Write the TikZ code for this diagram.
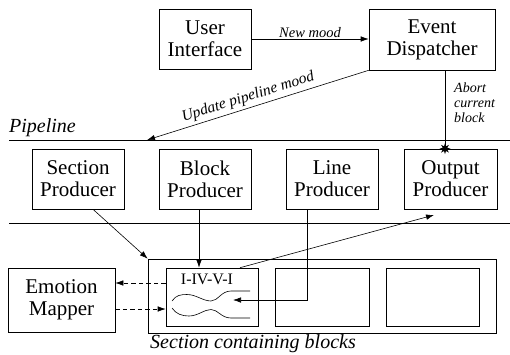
\documentclass[tikz,border=0pt]{standalone}
\usepackage{fontspec}
\setmainfont{Liberation Serif}
\usetikzlibrary{arrows.meta,shapes.geometric}
\tikzset{
  box/.style={draw, line width=0.6pt, inner sep=0pt, align=center, font=\fontsize{21}{22}\selectfont},
  conn/.style={line width=0.6pt},
  arr/.style={conn, -{Latex[length=8pt,width=5.5pt]}},
  dsh/.style={arr, dash pattern=on 4.5pt off 3pt},
  lbl/.style={font=\fontsize{14.5}{15}\selectfont\itshape, inner sep=1pt},
  big/.style={font=\fontsize{20}{22}\selectfont\itshape, inner sep=0pt},
  burst/.style={star, star points=8, star point ratio=2.2, fill=black, draw=none, minimum size=11pt, inner sep=0pt}
}
\begin{document}
\begin{tikzpicture}[x=1pt,y=-1pt]
\useasboundingbox (0,0) rectangle (510,354);
% top row
\node[box, minimum width=92pt, minimum height=60pt] (ui) at (205,39) {User\\Interface};
\node[box, minimum width=126pt, minimum height=61pt] (ed) at (432,39.5) {Event\\Dispatcher};
% pipeline row
\node[box, minimum width=92pt, minimum height=60pt] (sp) at (78,179) {Section\\Producer};
\node[box, minimum width=92pt, minimum height=60pt] (bp) at (205,179) {Block\\Producer};
\node[box, minimum width=92pt, minimum height=60pt] (lp) at (332,179) {Line\\Producer};
\node[box, minimum width=93pt, minimum height=60pt] (op) at (450.5,179) {Output\\Producer};
% bottom row
\node[box, minimum width=107pt, minimum height=64pt] (em) at (61.5,300) {Emotion\\Mapper};
\node[box, minimum width=348pt, minimum height=74pt] (sec) at (322,296) {};
\node[box, minimum width=92pt, minimum height=58pt] (b1) at (212,297) {};
\node[box, minimum width=94pt, minimum height=58pt] (b2) at (322,297) {};
\node[box, minimum width=93pt, minimum height=58pt] (b3) at (432.5,297) {};
\node[font=\fontsize{16}{16}\selectfont, inner sep=0pt] (chord) at (207,279) {I-IV-V-I};
% pipeline lines and labels
\draw[conn] (9,140) -- (510,140);
\draw[conn] (9,223) -- (510,223);
\node[big, anchor=west] (pipe) at (9,128) {Pipeline};
\node[big] (seclbl) at (253,344) {Section containing blocks};
% line shapes inside first block
\draw[conn] (172,301) .. controls (176,295) and (181,294.5) .. (187,294.5)
  .. controls (196,294.5) and (203,301) .. (211,301)
  .. controls (218,301) and (221,291) .. (231,291) -- (250,291);
\draw[conn] (172,308) .. controls (176,314) and (182,316) .. (189,316)
  .. controls (198,316) and (204,309.5) .. (211,309.5)
  .. controls (218,309.5) and (221,318) .. (231,318) -- (250,318);
% connectors
\draw[arr] (ui.east) -- node[lbl, above] {New mood} (ui.east -| ed.west);
\coordinate (upd) at (147,140);
\draw[arr] (ed.south west) -- node[lbl, font=\fontsize{15.5}{16}\selectfont\itshape, sloped, above=2pt, pos=0.53] {Update pipeline mood} (upd);
\coordinate (abortA) at (445,70);
\draw[conn] (abortA) -- (abortA |- op.north);
\node[burst] (bst) at (abortA |- op.north) {};
\node[lbl, anchor=west, align=left, font=\fontsize{14}{15}\selectfont\itshape] (ablbl) at (453,103) {Abort\\current\\block};
\draw[arr] ([xshift=15pt]sp.south) -- (sec.north west);
\draw[arr] ([xshift=-6pt]bp.south) -- ([xshift=-6pt]bp.south |- b1.north);
\coordinate (lpEnd) at (233,300);
\draw[arr] ([xshift=-25pt]lp.south) |- (lpEnd);
\coordinate (opIn) at (434,215);
\draw[arr] ([xshift=28pt]b1.north) -- (opIn);
\draw[dsh] ([yshift=14pt]b1.west) -- ([yshift=14pt]b1.west -| em.east);
\draw[dsh] ([yshift=-12pt]b1.west -| em.east) -- ([yshift=-12pt]b1.west);
\end{tikzpicture}
\end{document}
